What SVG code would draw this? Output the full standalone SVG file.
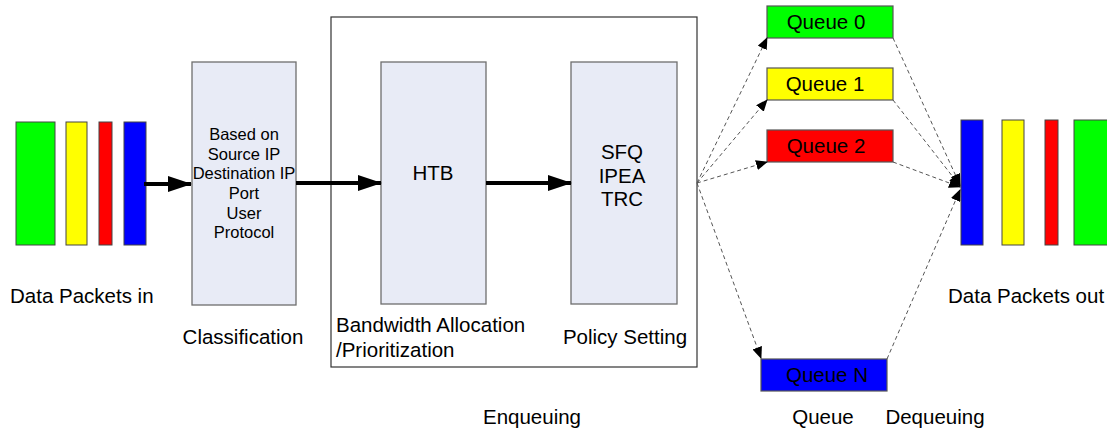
<svg xmlns="http://www.w3.org/2000/svg" width="1107" height="434" viewBox="0 0 1107 434">
  <style>
    text { font-family: "Liberation Sans", Arial, sans-serif; fill: #000; }
    .lbl { font-size: 20.5px; }
    .inner { font-size: 16.5px; }
    .big { font-size: 20.5px; }
    .q { font-size: 20.5px; }
    .stage { fill: #E8EBF6; stroke: #6E6E6E; stroke-width: 1.3; }
    .pkt { stroke: #444; stroke-width: 1; }
    .qbox { stroke: #555; stroke-width: 1.2; }
    .solid { stroke: #000; stroke-width: 4; fill: none; }
    .dash { stroke: #555; stroke-width: 1; stroke-dasharray: 4 3; fill: none; }
  </style>
  <defs>
    <marker id="bigHead" markerUnits="userSpaceOnUse" markerWidth="24" markerHeight="16" refX="23" refY="8" orient="auto">
      <polygon points="0,0 24,8 0,16" fill="#000"/>
    </marker>
    <marker id="smallHead" markerUnits="userSpaceOnUse" markerWidth="12" markerHeight="10" refX="11" refY="5" orient="auto">
      <polygon points="0,0 12,5 0,10" fill="#000"/>
    </marker>
  </defs>

  <rect width="1107" height="434" fill="#fff"/>

  <!-- incoming packets -->
  <g id="packets-in">
    <rect class="pkt" x="16" y="122" width="39" height="123" fill="#00FF00"/>
    <rect class="pkt" x="66" y="122" width="21" height="123" fill="#FFFF00"/>
    <rect class="pkt" x="99" y="122" width="13" height="123" fill="#FF0000"/>
    <rect class="pkt" x="124" y="122" width="22" height="123" fill="#0000FF"/>
    <text class="lbl" x="10" y="303">Data Packets in</text>
  </g>

  <!-- classification stage -->
  <g id="classification">
    <rect class="stage" x="192" y="62" width="104" height="243"/>
    <text class="inner" text-anchor="middle" x="244" y="140">Based on</text>
    <text class="inner" text-anchor="middle" x="244" y="160">Source IP</text>
    <text class="inner" text-anchor="middle" x="244" y="179">Destination IP</text>
    <text class="inner" text-anchor="middle" x="244" y="199">Port</text>
    <text class="inner" text-anchor="middle" x="244" y="219">User</text>
    <text class="inner" text-anchor="middle" x="244" y="238">Protocol</text>
    <text class="lbl" text-anchor="middle" x="243" y="344">Classification</text>
  </g>

  <!-- enqueuing container -->
  <g id="enqueuing">
    <rect x="331" y="17" width="366" height="350" fill="none" stroke="#333" stroke-width="1.2"/>
    <text class="lbl" text-anchor="middle" x="532" y="424">Enqueuing</text>
  </g>

  <g id="htb">
    <rect class="stage" x="381" y="62" width="105" height="242"/>
    <text class="big" text-anchor="middle" x="433" y="180">HTB</text>
    <text class="lbl" x="336" y="332">Bandwidth Allocation</text>
    <text class="lbl" x="336" y="357">/Prioritization</text>
  </g>

  <g id="policy">
    <rect class="stage" x="571" y="62" width="106" height="242"/>
    <text class="big" text-anchor="middle" x="622" y="159">SFQ</text>
    <text class="big" text-anchor="middle" x="622" y="183">IPEA</text>
    <text class="big" text-anchor="middle" x="622" y="206">TRC</text>
    <text class="lbl" text-anchor="middle" x="625" y="344">Policy Setting</text>
  </g>

  <!-- queues -->
  <g id="queue-0">
    <rect class="qbox" x="767" y="6" width="126" height="32" fill="#00FF00"/>
    <text class="q" text-anchor="middle" x="826" y="29">Queue 0</text>
  </g>
  <g id="queue-1">
    <rect class="qbox" x="767" y="68" width="126" height="32" fill="#FFFF00"/>
    <text class="q" text-anchor="middle" x="825" y="91">Queue 1</text>
  </g>
  <g id="queue-2">
    <rect class="qbox" x="767" y="130" width="126" height="32" fill="#FF0000"/>
    <text class="q" text-anchor="middle" x="826" y="153">Queue 2</text>
  </g>
  <g id="queue-n">
    <rect class="qbox" x="761" y="359" width="126" height="32" fill="#0000FF"/>
    <text class="q" text-anchor="middle" x="827" y="382">Queue N</text>
    <text class="lbl" text-anchor="middle" x="823" y="424">Queue</text>
  </g>

  <!-- outgoing packets -->
  <g id="packets-out">
    <rect class="pkt" x="961" y="120" width="22" height="125" fill="#0000FF"/>
    <rect class="pkt" x="1002" y="120" width="22" height="125" fill="#FFFF00"/>
    <rect class="pkt" x="1045" y="120" width="13" height="125" fill="#FF0000"/>
    <rect class="pkt" x="1074" y="120" width="40" height="125" fill="#00FF00"/>
    <text class="lbl" x="948" y="303">Data Packets out</text>
    <text class="lbl" text-anchor="middle" x="935" y="424">Dequeuing</text>
  </g>

  <!-- connectors -->
  <g id="connectors">
    <line class="solid" x1="144" y1="184" x2="191" y2="184" marker-end="url(#bigHead)"/>
    <line class="solid" x1="296" y1="183" x2="381" y2="183" marker-end="url(#bigHead)"/>
    <line class="solid" x1="486" y1="183" x2="571" y2="183" marker-end="url(#bigHead)"/>

    <line class="dash" x1="697" y1="183" x2="767" y2="38" marker-end="url(#smallHead)"/>
    <line class="dash" x1="697" y1="183" x2="767" y2="100" marker-end="url(#smallHead)"/>
    <line class="dash" x1="697" y1="183" x2="767" y2="162" marker-end="url(#smallHead)"/>
    <line class="dash" x1="697" y1="183" x2="761" y2="358" marker-end="url(#smallHead)"/>

    <line class="dash" x1="893" y1="38" x2="960" y2="185" marker-end="url(#smallHead)"/>
    <line class="dash" x1="893" y1="100" x2="960" y2="186" marker-end="url(#smallHead)"/>
    <line class="dash" x1="893" y1="162" x2="960" y2="187" marker-end="url(#smallHead)"/>
    <line class="dash" x1="887" y1="359" x2="960" y2="190" marker-end="url(#smallHead)"/>
  </g>
</svg>
